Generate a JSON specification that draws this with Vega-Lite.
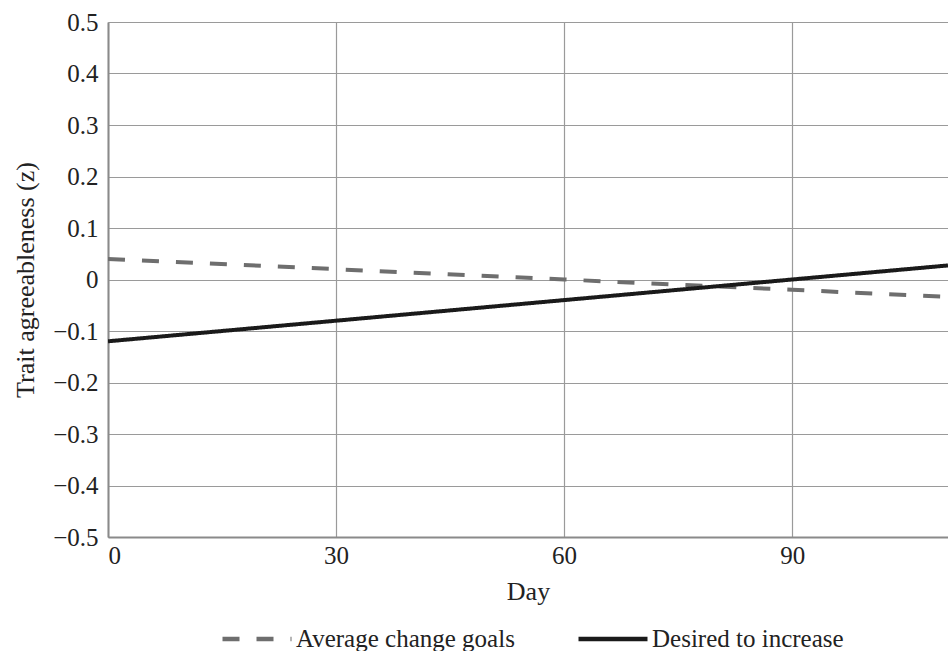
{
  "$schema": "https://vega.github.io/schema/vega-lite/v6.json",
  "width": 840,
  "height": 515,
  "autosize": "none",
  "padding": {"left": 108, "top": 22, "right": 0, "bottom": 114},
  "background": "white",
  "config": {
    "font": "Liberation Serif",
    "view": {"stroke": null},
    "axis": {"labelFont": "Liberation Serif", "titleFont": "Liberation Serif", "labelFontSize": 25, "titleFontSize": 26, "titleFontWeight": "normal", "labelColor": "#222", "titleColor": "#222", "gridColor": "#9a9a9a", "gridWidth": 1.2, "domainColor": "#8a8a8a", "domainWidth": 2, "ticks": false}
  },
  "data": {
    "values": [
      {"day": 0, "value": 0.04, "series": "Average change goals"},
      {"day": 30, "value": 0.02, "series": "Average change goals"},
      {"day": 60, "value": 0.0, "series": "Average change goals"},
      {"day": 90, "value": -0.02, "series": "Average change goals"},
      {"day": 110.5, "value": -0.0337, "series": "Average change goals"},
      {"day": 0, "value": -0.12, "series": "Desired to increase"},
      {"day": 30, "value": -0.08, "series": "Desired to increase"},
      {"day": 60, "value": -0.04, "series": "Desired to increase"},
      {"day": 90, "value": 0.0, "series": "Desired to increase"},
      {"day": 110.5, "value": 0.0273, "series": "Desired to increase"}
    ]
  },
  "mark": {"type": "line", "strokeWidth": 4, "clip": true},
  "encoding": {
    "x": {
      "field": "day", "type": "quantitative",
      "scale": {"domain": [0, 110.5], "nice": false},
      "axis": {"values": [0, 30, 60, 90], "title": "Day", "labelPadding": 6, "titlePadding": 10, "grid": true}
    },
    "y": {
      "field": "value", "type": "quantitative",
      "scale": {"domain": [-0.5, 0.5], "nice": false},
      "axis": {"values": [-0.5, -0.4, -0.3, -0.2, -0.1, 0, 0.1, 0.2, 0.3, 0.4, 0.5], "title": "Trait agreeableness (z)", "labelPadding": 10, "titlePadding": 14, "labelExpr": "datum.value == 0 ? '0' : replace(format(datum.value, '.1f'), '-', '–')"}
    },
    "color": {
      "field": "series", "type": "nominal",
      "scale": {"domain": ["Average change goals", "Desired to increase"], "range": ["#6e6e6e", "#1a1a1a"]},
      "legend": {"orient": "none", "legendX": 112, "legendY": 580, "direction": "horizontal", "title": null, "labelFontSize": 25, "labelFont": "Liberation Serif", "labelColor": "#222", "labelLimit": 0, "symbolType": "stroke", "symbolSize": 4761, "symbolStrokeWidth": 4.5, "columnPadding": 54, "labelOffset": 2}
    },
    "strokeDash": {
      "field": "series", "type": "nominal",
      "scale": {"domain": ["Average change goals", "Desired to increase"], "range": [[17, 17], [1, 0]]},
      "legend": null
    }
  }
}
